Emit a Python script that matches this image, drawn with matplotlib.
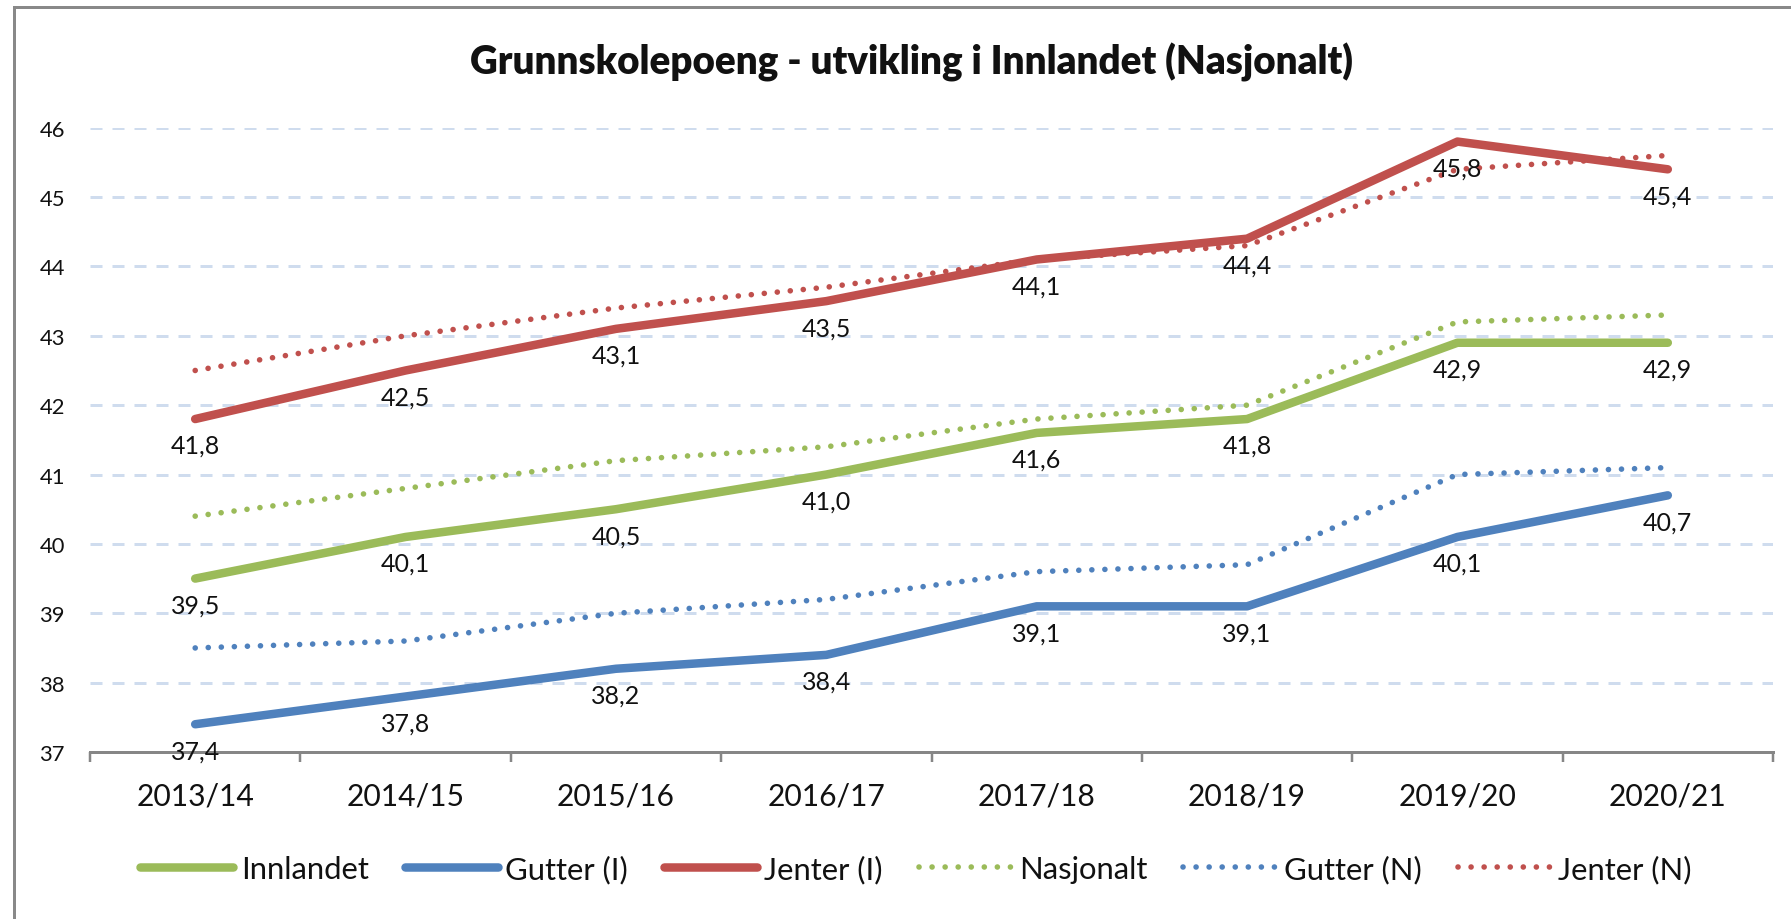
import matplotlib
matplotlib.use("Agg")
import matplotlib.pyplot as plt
from matplotlib.lines import Line2D
import numpy as np

plt.rcParams['font.family'] = ['Lato', 'DejaVu Sans']

categories = ["2013/14", "2014/15", "2015/16", "2016/17", "2017/18", "2018/19", "2019/20", "2020/21"]
innlandet = [39.5, 40.1, 40.5, 41.0, 41.6, 41.8, 42.9, 42.9]
gutter_i = [37.4, 37.8, 38.2, 38.4, 39.1, 39.1, 40.1, 40.7]
jenter_i = [41.8, 42.5, 43.1, 43.5, 44.1, 44.4, 45.8, 45.4]
nasjonalt = [40.4, 40.8, 41.2, 41.4, 41.8, 42.0, 43.2, 43.3]
gutter_n = [38.5, 38.6, 39.0, 39.2, 39.6, 39.7, 41.0, 41.1]
jenter_n = [42.5, 43.0, 43.4, 43.7, 44.1, 44.3, 45.4, 45.6]
yticks = [37, 38, 39, 40, 41, 42, 43, 44, 45, 46]
title = "Grunnskolepoeng - utvikling i Innlandet (Nasjonalt)"

GREEN = "#9BBB59"
BLUE = "#4F81BD"
RED = "#C0504D"
W, H = 1791, 920
DPI = 100
px = 72.0 / DPI  # points per pixel

fig = plt.figure(figsize=(W / DPI, H / DPI), dpi=DPI)
ax = fig.add_axes([90 / W, 1 - 753 / H, (1773 - 90) / W, (753 - 128.7) / H])

x = np.arange(len(categories))
solid_lw = 8.5 * px
dot_lw = 5.6 * px
dot_style = (0, (0.01, 13 * px / dot_lw))

series = [
    ("Innlandet", innlandet, GREEN, True),
    ("Gutter (I)", gutter_i, BLUE, True),
    ("Jenter (I)", jenter_i, RED, True),
    ("Nasjonalt", nasjonalt, GREEN, False),
    ("Gutter (N)", gutter_n, BLUE, False),
    ("Jenter (N)", jenter_n, RED, False),
]

handles = {}
for name, vals, col, solid in series:
    if solid:
        h, = ax.plot(x, vals, color=col, lw=solid_lw, solid_capstyle='round',
                     solid_joinstyle='round', zorder=4, label=name)
    else:
        h, = ax.plot(x, vals, color=col, lw=dot_lw, linestyle=dot_style,
                     dash_capstyle='round', zorder=3, label=name)
    handles[name] = h

for name, vals, col, solid in series:
    if solid:
        for xi, v in zip(x, vals):
            ax.annotate(f"{v:.1f}".replace(".", ","), (xi, v), xytext=(0, -34 * px),
                        textcoords='offset points', ha='center', va='baseline',
                        fontsize=25 * px, color="#111111", zorder=6)

ax.set_xlim(-0.5, len(categories) - 0.5)
ax.set_ylim(37, 46)
ax.set_yticks(yticks)
ax.set_yticklabels([str(t) for t in yticks])
ax.set_xticks(x)
ax.set_xticklabels(categories)
ax.set_xticks(np.arange(-0.5, len(categories)), minor=True)

ax.tick_params(axis='y', length=0, pad=25 * px, labelsize=22 * px, labelcolor="#111111")
ax.tick_params(axis='x', which='major', length=0, pad=30 * px, labelsize=30 * px, labelcolor="#111111")
ax.tick_params(axis='x', which='minor', length=10 * px, width=2.5 * px, color="#868686")

for s in ['left', 'right', 'top']:
    ax.spines[s].set_visible(False)
ax.spines['bottom'].set_color("#868686")
ax.spines['bottom'].set_linewidth(3 * px)
ax.spines['bottom'].set_zorder(5)

grid_lw = 3 * px
ax.yaxis.grid(True, color="#CFDCEE", lw=grid_lw,
              linestyle=(0, (12 * px / grid_lw, 10 * px / grid_lw)))
ax.set_axisbelow(True)

fig.text(912 / W, 1 - 62 / H, title, ha='center', va='center',
         fontsize=38.5 * px, fontweight='heavy', color="#111111")

order = ["Innlandet", "Gutter (I)", "Jenter (I)", "Nasjonalt", "Gutter (N)", "Jenter (N)"]
fig.legend([handles[n] for n in order], order, loc='center',
           bbox_to_anchor=(916 / W, 1 - 870 / H), ncol=6, frameon=False,
           fontsize=31 * px, handlelength=3.0, handletextpad=0.25,
           columnspacing=1.15, labelcolor="#111111")

fig.add_artist(Line2D([14 / W, 14 / W], [0, 1 - 8 / H], transform=fig.transFigure,
                      color="#898989", lw=3 * px))
fig.add_artist(Line2D([14 / W, 1], [1 - 8 / H, 1 - 8 / H], transform=fig.transFigure,
                      color="#898989", lw=3 * px))

fig.savefig("out.png", dpi=DPI)
